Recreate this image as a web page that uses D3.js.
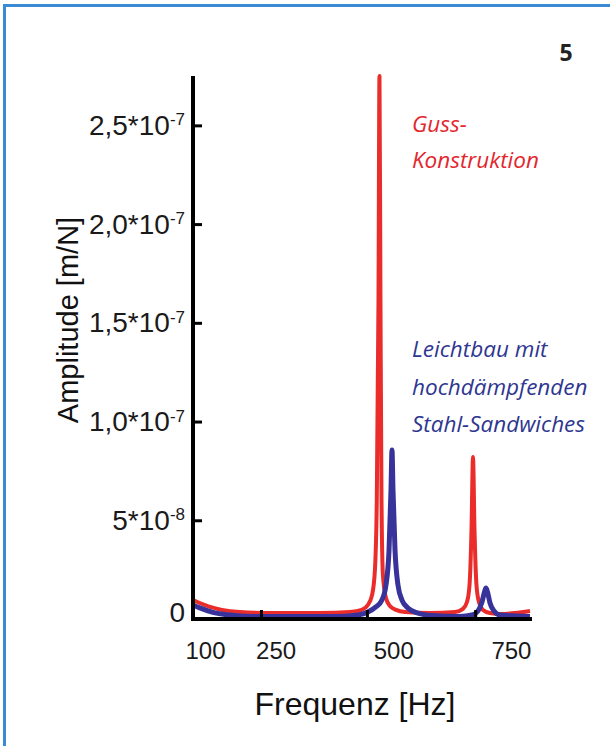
<!DOCTYPE html>
<html>
<head>
<meta charset="utf-8">
<script src="https://cdn.jsdelivr.net/npm/d3@7"></script>
<style>
  body { margin: 0; background: #fff; }
  svg { display: block; }
  .axis path, .axis line { stroke: #000; }
  .axis text { fill: #1a1a1a; font-family: "Liberation Sans", Arial, sans-serif; }
  .note { font-family: "Open Sans", "Noto Sans", sans-serif; font-style: italic; font-size: 22.5px; }
</style>
</head>
<body>
<script>
// frequency [Hz] and amplitude [m/N]
var redFreq = [74.5, 89, 111, 136, 174, 238, 344, 408, 433, 446, 455, 461, 465, 468.6, 470.7, 472.8, 475, 478, 484.5, 493, 506, 525, 578, 631, 648, 656.6, 662, 666.2, 669.4, 672.6, 676.8, 682, 690.6, 705.5, 726.7, 758.6, 790.5];
var redAmp = [9.6e-9, 8.1e-9, 6.1e-9, 4.6e-9, 3.5e-9, 3.0e-9, 3.0e-9, 3.5e-9, 4.6e-9, 7.1e-9, 1.22e-8, 2.48e-8, 6.03e-8, 1.616e-7, 2.75e-7, 1.616e-7, 6.03e-8, 2.23e-8, 1.06e-8, 6.6e-9, 4.6e-9, 3.5e-9, 3.0e-9, 3.5e-9, 5.1e-9, 8.6e-9, 1.72e-8, 4.51e-8, 8.21e-8, 4.51e-8, 1.72e-8, 8.6e-9, 4.6e-9, 3.0e-9, 2.5e-9, 3.0e-9, 4.1e-9];

var blueFreq = [74.5, 89, 115, 153, 196, 387, 425, 446, 463, 476, 484.5, 491, 495.2, 497.3, 499.4, 503.7, 510, 518.5, 531, 552.5, 582, 642, 667, 680, 688.5, 693.8, 697, 700.2, 705.5, 714, 726.7, 790.5];
var blueAmp = [7.1e-9, 5.6e-9, 3.5e-9, 2.0e-9, 1.3e-9, 1.3e-9, 2.0e-9, 3.5e-9, 6.1e-9, 9.6e-9, 1.72e-8, 3.5e-8, 6.54e-8, 8.56e-8, 6.54e-8, 3.5e-8, 1.72e-8, 9.6e-9, 5.6e-9, 3.0e-9, 1.8e-9, 1.3e-9, 2.0e-9, 4.1e-9, 8.6e-9, 1.37e-8, 1.57e-8, 1.37e-8, 8.1e-9, 4.1e-9, 2.0e-9, 1.3e-9];

var yTicks = [0, 5e-8, 1e-7, 1.5e-7, 2e-7, 2.5e-7];
var yTickMantissa = ['0', '5*10', '1,0*10', '1,5*10', '2,0*10', '2,5*10'];
var yTickExponent = ['', '-8', '-7', '-7', '-7', '-7'];

var xLabels = [100, 250, 500, 750];
var xTickMarks = [219, 444, 674];

var redNote = ['Guss-', 'Konstruktion'];
var blueNote = ['Leichtbau mit', 'hochdämpfenden', 'Stahl-Sandwiches'];

var W = 610, H = 746;
var svg = d3.select('body').append('svg')
  .attr('width', W)
  .attr('height', H);

// frame
svg.append('rect')
  .attr('x', 4.5).attr('y', 5.5)
  .attr('width', 640).attr('height', 780)
  .attr('fill', 'none')
  .attr('stroke', '#3b8bd4')
  .attr('stroke-width', 3);

svg.append('text')
  .attr('x', 566).attr('y', 61)
  .attr('text-anchor', 'middle')
  .attr('font-family', '"Open Sans", sans-serif')
  .attr('font-weight', 'bold')
  .attr('font-size', 23)
  .attr('fill', '#222')
  .text('5');

var x = d3.scaleLinear().domain([74.5, 790.5]).range([193, 530]);
var y = d3.scaleLinear().domain([0, 2.75e-7]).range([619, 76]);

var line = d3.line()
  .x(function(d) { return x(d[0]); })
  .y(function(d) { return y(d[1]); })
  .curve(d3.curveMonotoneX);

var redData = redFreq.map(function(f, i) { return [f, redAmp[i]]; });
var blueData = blueFreq.map(function(f, i) { return [f, blueAmp[i]]; });

svg.append('path')
  .datum(redData)
  .attr('d', line)
  .attr('fill', 'none')
  .attr('stroke', '#ea2d2a')
  .attr('stroke-width', 4)
  .attr('stroke-linejoin', 'round');

svg.append('path')
  .datum(blueData)
  .attr('d', line)
  .attr('fill', 'none')
  .attr('stroke', '#38339a')
  .attr('stroke-width', 5)
  .attr('stroke-linejoin', 'round');

// x axis: labels, then separate tick marks
var gx = svg.append('g')
  .attr('class', 'axis')
  .attr('transform', 'translate(0,' + y(0) + ')')
  .call(d3.axisBottom(x).tickValues(xLabels).tickSize(0).tickPadding(23).tickFormat(d3.format('d')));
gx.select('.domain').remove();
gx.selectAll('text').attr('font-size', 24);

svg.append('g')
  .attr('class', 'axis')
  .attr('transform', 'translate(0,' + y(0) + ')')
  .call(d3.axisBottom(x).tickValues(xTickMarks).tickSizeInner(-9).tickSizeOuter(0).tickFormat(''))
  .call(function(g) { g.select('.domain').remove(); })
  .selectAll('line').attr('stroke-width', 3);

svg.append('line')
  .attr('x1', 191).attr('x2', 532)
  .attr('y1', y(0)).attr('y2', y(0))
  .attr('stroke', '#000')
  .attr('stroke-width', 4);

// y axis
var gy = svg.append('g')
  .attr('class', 'axis')
  .attr('transform', 'translate(' + x(74.5) + ',0)')
  .call(d3.axisLeft(y).tickValues(yTicks).tickSizeInner(-9).tickSizeOuter(0).tickPadding(8).tickFormat(''));
gy.select('.domain').attr('stroke-width', 4).attr('d', 'M0,' + (y(0) + 2) + 'V' + y.range()[1]);
gy.selectAll('.tick line').attr('stroke-width', 3);
gy.selectAll('.tick text').each(function(d, i) {
  var t = d3.select(this).attr('font-size', 28);
  if (d === 0) t.attr('dy', '0.1em');
  t.append('tspan').text(yTickMantissa[i]);
  if (yTickExponent[i]) {
    t.append('tspan')
      .attr('font-size', 17)
      .attr('dy', '-0.55em')
      .text(yTickExponent[i]);
  }
});

svg.append('text')
  .attr('x', 355).attr('y', 715)
  .attr('text-anchor', 'middle')
  .attr('font-family', '"Liberation Sans", Arial, sans-serif')
  .attr('font-size', 32)
  .attr('fill', '#111')
  .text('Frequenz [Hz]');

svg.append('text')
  .attr('transform', 'translate(78,320) rotate(-90)')
  .attr('text-anchor', 'middle')
  .attr('font-family', '"Liberation Sans", Arial, sans-serif')
  .attr('font-size', 29)
  .attr('fill', '#111')
  .text('Amplitude [m/N]');

// annotations
svg.append('text')
  .attr('class', 'note')
  .attr('fill', '#e3262e')
  .selectAll('tspan')
  .data(redNote)
  .join('tspan')
  .attr('x', 412)
  .attr('y', function(d, i) { return 132 + i * 36; })
  .text(function(d) { return d; });

svg.append('text')
  .attr('class', 'note')
  .attr('fill', '#2e3690')
  .selectAll('tspan')
  .data(blueNote)
  .join('tspan')
  .attr('x', 412)
  .attr('y', function(d, i) { return 357 + i * 37.5; })
  .text(function(d) { return d; });
</script>
</body>
</html>
